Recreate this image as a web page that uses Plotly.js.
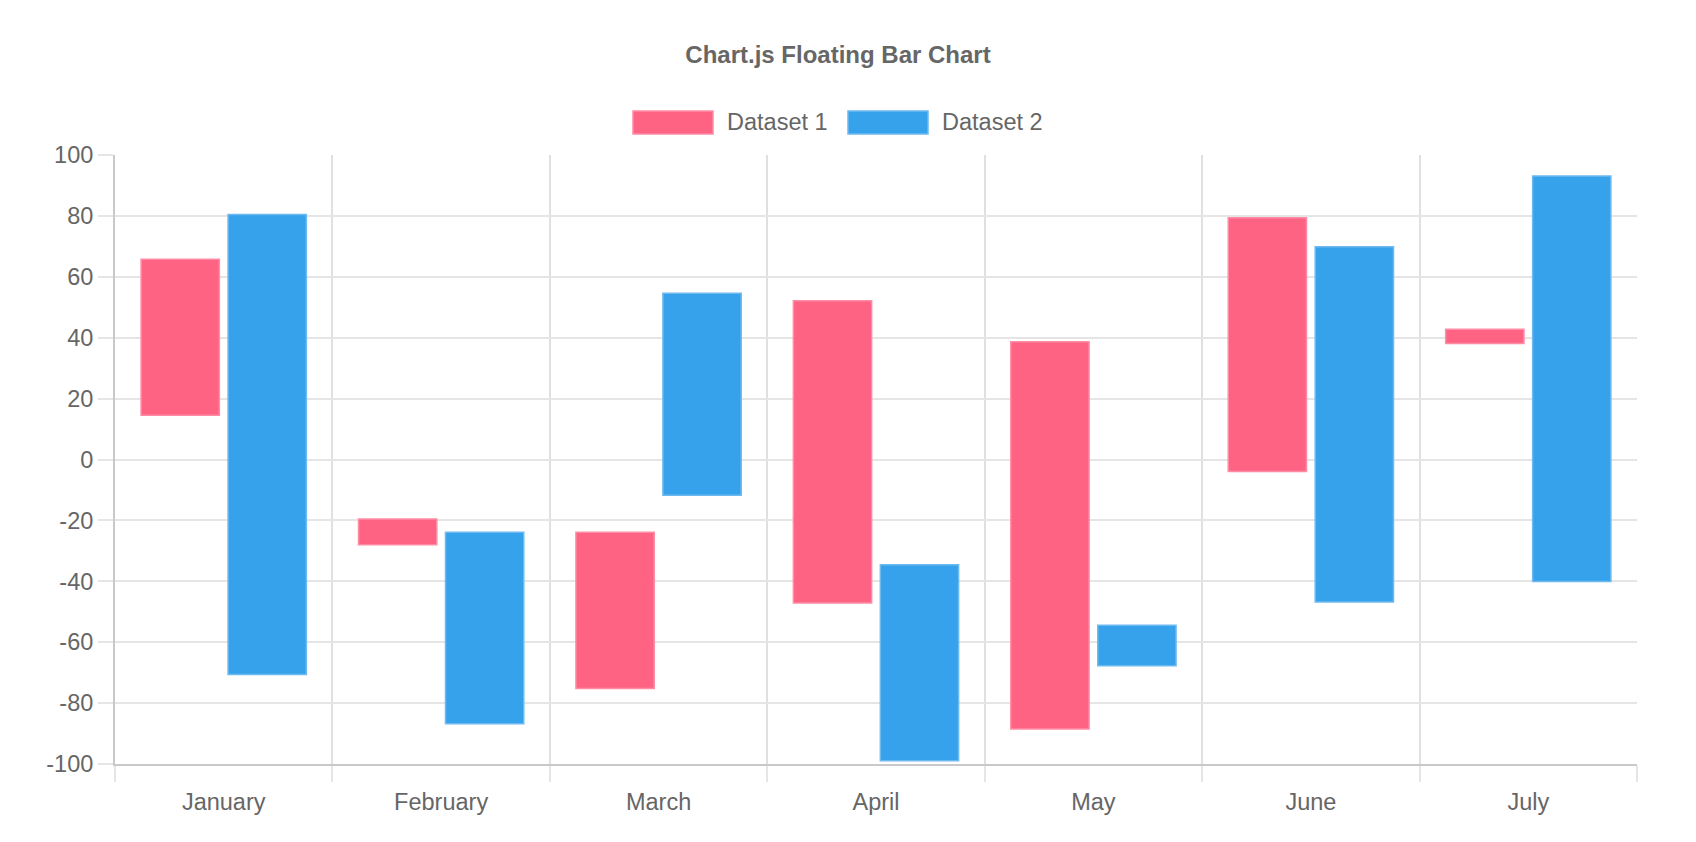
<!DOCTYPE html>
<html>
<head>
<meta charset="utf-8">
<script src="https://cdn.plot.ly/plotly-3.0.1.min.js"></script>
<style>
  html, body { margin: 0; padding: 0; background: #fff; }
  #chart { width: 1696px; height: 842px; }
</style>
</head>
<body>
<div id="chart"></div>
<script>
// floating bar data: each bar goes from low to high
const months = ['January', 'February', 'March', 'April', 'May', 'June', 'July'];
const seriesNames = ['Dataset 1', 'Dataset 2'];
const d1Low = [14.5, -28, -75.2, -47.1, -88.5, -3.9, 38.1];
const d1High = [65.8, -19.5, -23.9, 52.1, 38.7, 79.4, 42.8];
const d2Low = [-70.6, -86.8, -11.7, -98.9, -67.7, -46.8, -40.1];
const d2High = [80.5, -23.9, 54.6, -34.6, -54.4, 69.9, 93.1];
const yTicks = [-100, -80, -60, -40, -20, 0, 20, 40, 60, 80, 100];

const fills = ['rgb(255, 99, 132)', 'rgb(54, 162, 235)'];
const borders = ['rgba(255, 140, 165, 1)', 'rgba(110, 185, 240, 1)'];

const W = 1696, H = 842;
const margin = { l: 115, r: 59, t: 155, b: 78 };
const plotW = W - margin.l - margin.r;
const plotH = H - margin.t - margin.b;
const fontFamily = '"Helvetica Neue", Helvetica, Arial, "Liberation Sans", sans-serif';
const textColor = '#666666';
const gridColor = '#e5e5e5';

const lows = [d1Low, d2Low];
const highs = [d1High, d2High];

const traces = seriesNames.map((name, i) => ({
  type: 'bar',
  name: name,
  x: months,
  base: lows[i],
  y: highs[i].map((h, k) => h - lows[i][k]),
  marker: { color: fills[i], line: { color: borders[i], width: 1.5 } },
  showlegend: false,
  hoverinfo: 'x+name'
}));

// chart.js style legend: wide swatches + labels, drawn as shapes/annotations
const toPaperX = px => (px - margin.l) / plotW;
const toPaperY = py => (H - margin.b - py) / plotH;
const legendShapes = [];
const legendNotes = [];
seriesNames.forEach((name, i) => {
  const x0 = 633 + i * 215;
  legendShapes.push({
    type: 'rect', xref: 'paper', yref: 'paper',
    x0: toPaperX(x0), x1: toPaperX(x0 + 80),
    y0: toPaperY(134), y1: toPaperY(111),
    fillcolor: fills[i], line: { color: borders[i], width: 1.5 }
  });
  legendNotes.push({
    xref: 'paper', yref: 'paper',
    x: toPaperX(x0 + 92), y: toPaperY(122.5),
    xanchor: 'left', yanchor: 'middle',
    text: name, showarrow: false,
    font: { family: fontFamily, size: 23.5, color: textColor }
  });
});

const layout = {
  width: W,
  height: H,
  margin: margin,
  paper_bgcolor: '#fff',
  plot_bgcolor: '#fff',
  font: { family: fontFamily, size: 23.5, color: textColor },
  title: {
    text: '<b>Chart.js Floating Bar Chart</b>',
    x: 838 / W, xref: 'container', xanchor: 'center',
    y: 1 - 55 / H, yref: 'container', yanchor: 'middle',
    font: { family: fontFamily, size: 24, color: textColor }
  },
  barmode: 'group',
  bargap: 0.2,
  bargroupgap: 0.1,
  showlegend: false,
  xaxis: {
    type: 'category',
    tickson: 'boundaries',
    ticks: 'outside',
    ticklen: 16,
    tickwidth: 2,
    tickcolor: gridColor,
    ticklabelstandoff: 16,
    showgrid: true,
    gridcolor: '#e0e0e0',
    gridwidth: 2,
    showline: true,
    linecolor: '#c9c9c9',
    linewidth: 2,
    zeroline: false,
    tickfont: { size: 23.5, color: textColor },
    fixedrange: true
  },
  yaxis: {
    range: [-100, 100],
    tickmode: 'array',
    tickvals: yTicks,
    ticktext: yTicks.map(String),
    ticks: 'outside',
    ticklen: 15,
    tickwidth: 2,
    tickcolor: gridColor,
    showgrid: true,
    gridcolor: gridColor,
    gridwidth: 2,
    showline: true,
    linecolor: '#c9c9c9',
    linewidth: 2,
    zeroline: false,
    tickfont: { size: 23.5, color: textColor },
    fixedrange: true
  },
  shapes: legendShapes,
  annotations: legendNotes
};

Plotly.newPlot('chart', traces, layout, { displayModeBar: false, staticPlot: true });
</script>
</body>
</html>
